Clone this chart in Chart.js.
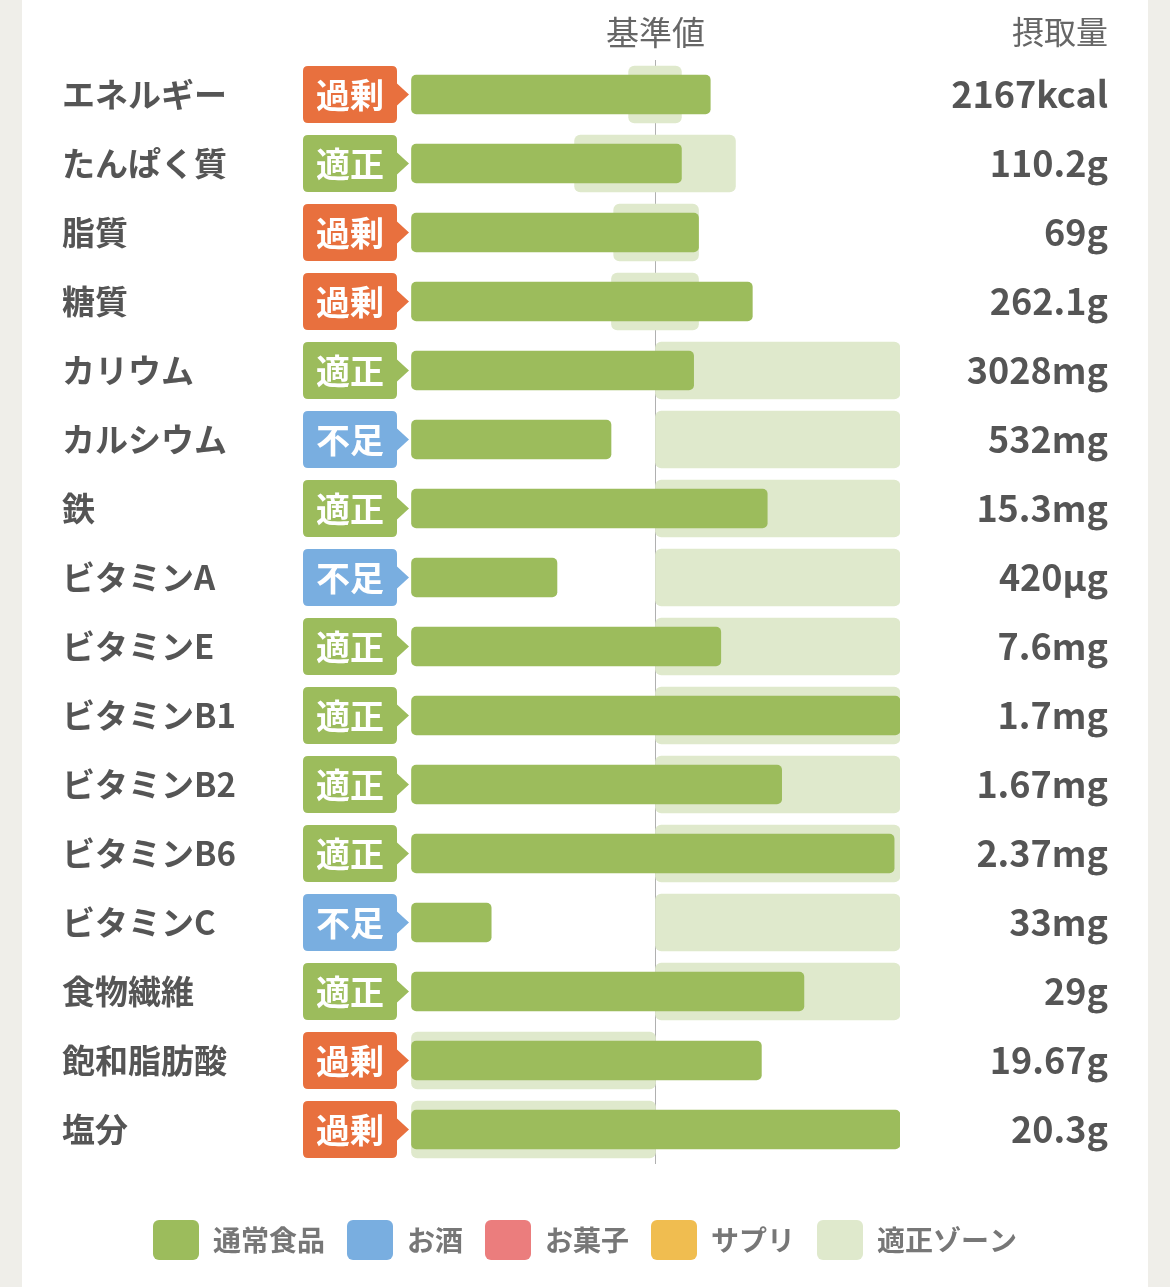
<!DOCTYPE html>
<html lang="ja">
<head>
    <meta charset="UTF-8">
    <title>栄養素の摂取量</title>
    <script src="https://cdn.jsdelivr.net/npm/chart.js"></script>
    <style>
        html, body { margin: 0; padding: 0; background: #efeee9; overflow: hidden; }
        #panel { position: absolute; left: 22px; top: 0; width: 1126px; height: 1287px; background: #fff; }
        #grafico { position: absolute; left: 0; top: 0; }
    </style>
</head>
<body>
    <div id="panel"></div>
    <canvas id="grafico" width="1170" height="1287"></canvas>

    <script>
        const categories = ['エネルギー', 'たんぱく質', '脂質', '糖質', 'カリウム', 'カルシウム', '鉄', 'ビタミンA',
            'ビタミンE', 'ビタミンB1', 'ビタミンB2', 'ビタミンB6', 'ビタミンC', '食物繊維', '飽和脂肪酸', '塩分'];
        const status = ['過剰', '適正', '過剰', '過剰', '適正', '不足', '適正', '不足',
            '適正', '適正', '適正', '適正', '不足', '適正', '過剰', '過剰'];
        const intakeLabels = ['2167kcal', '110.2g', '69g', '262.1g', '3028mg', '532mg', '15.3mg', '420µg',
            '7.6mg', '1.7mg', '1.67mg', '2.37mg', '33mg', '29g', '19.67g', '20.3g'];
        // 基準値 = 100
        const intakePct = [122.4, 110.6, 117.6, 139.6, 115.6, 81.8, 145.7, 59.7,
            126.7, 200, 151.6, 197.6, 32.8, 160.7, 143.3, 200];
        const zoneLow = [89.0, 66.9, 82.9, 82.0, 100, 100, 100, 100, 100, 100, 100, 100, 100, 100, 0, 0];
        const zoneHigh = [110.6, 132.7, 117.6, 117.6, 200, 200, 200, 200, 200, 200, 200, 200, 200, 200, 100, 100];
        const xTicks = { 100: '基準値' };
        const headerRight = '摂取量';
        const legendNames = ['通常食品', 'お酒', 'お菓子', 'サプリ', '適正ゾーン'];

        const colores = { '過剰': '#e8703e', '適正': '#9cbc5c', '不足': '#79aee0' };
        const FONT = '"Noto Sans CJK JP", "Noto Sans", sans-serif';

        const badgePlugin = {
            id: 'badges',
            afterDraw(chart) {
                const ctx = chart.ctx;
                const y = chart.scales.y;
                const left = chart.chartArea.left;
                ctx.save();
                status.forEach((s, i) => {
                    const cy = y.getPixelForValue(i);
                    const x0 = left - 108, x1 = left - 14, tip = left - 2;
                    const top = cy - 28.5, bot = cy + 28.5, r = 5;
                    ctx.beginPath();
                    ctx.moveTo(x0 + r, top);
                    ctx.lineTo(x1 - r, top);
                    ctx.quadraticCurveTo(x1, top, x1, top + r);
                    ctx.lineTo(x1, cy - 11);
                    ctx.lineTo(tip, cy);
                    ctx.lineTo(x1, cy + 11);
                    ctx.lineTo(x1, bot - r);
                    ctx.quadraticCurveTo(x1, bot, x1 - r, bot);
                    ctx.lineTo(x0 + r, bot);
                    ctx.quadraticCurveTo(x0, bot, x0, bot - r);
                    ctx.lineTo(x0, top + r);
                    ctx.quadraticCurveTo(x0, top, x0 + r, top);
                    ctx.closePath();
                    ctx.fillStyle = colores[s];
                    ctx.fill();
                    ctx.fillStyle = '#fff';
                    ctx.font = 'bold 34px ' + FONT;
                    ctx.textAlign = 'center';
                    ctx.textBaseline = 'middle';
                    ctx.fillText(s, (x0 + x1) / 2, cy + 1);
                });
                // cabecera derecha
                const x = chart.scales.x;
                const y2 = chart.scales.y2;
                ctx.fillStyle = '#666';
                ctx.font = '32px ' + FONT;
                ctx.textAlign = 'right';
                ctx.textBaseline = 'middle';
                ctx.fillText(headerRight, y2.right, x.bottom - 8 - 19.8);
                ctx.restore();
            }
        };

        const ctx = document.getElementById('grafico').getContext('2d');
        const chart = new Chart(ctx, {
            type: 'bar',
            data: {
                labels: categories,
                datasets: [
                    {
                        label: legendNames[0],
                        data: intakePct,
                        backgroundColor: '#9cbc5c',
                        barThickness: 39,
                        borderRadius: 5,
                        borderSkipped: false,
                        borderWidth: 0,
                        grouped: false,
                        order: 0
                    },
                    { label: legendNames[1], data: [], backgroundColor: '#79aee0', borderWidth: 0, grouped: false, order: 1 },
                    { label: legendNames[2], data: [], backgroundColor: '#eb7d7d', borderWidth: 0, grouped: false, order: 2 },
                    { label: legendNames[3], data: [], backgroundColor: '#f0bd50', borderWidth: 0, grouped: false, order: 3 },
                    {
                        label: legendNames[4],
                        data: zoneLow.map((lo, i) => [lo, zoneHigh[i]]),
                        backgroundColor: '#dfe9cc',
                        barThickness: 57,
                        borderRadius: 6,
                        borderSkipped: false,
                        borderWidth: 0,
                        grouped: false,
                        order: 10
                    }
                ]
            },
            options: {
                indexAxis: 'y',
                responsive: false,
                animation: false,
                layout: { padding: { left: 62, right: 62, top: 0, bottom: 17 } },
                scales: {
                    x: {
                        position: 'top',
                        min: 0,
                        max: 200,
                        z: 1,
                        border: { display: false },
                        grid: {
                            drawTicks: false,
                            lineWidth: 1,
                            color: c => c.tick && c.tick.value === 100 ? '#b0b0b0' : 'rgba(0,0,0,0)'
                        },
                        ticks: {
                            stepSize: 100,
                            padding: 8,
                            color: '#666',
                            font: { family: FONT, size: 33 },
                            callback: v => xTicks[v] || ''
                        },
                        afterFit: s => { s.height = 60; }
                    },
                    xpad: {
                        type: 'linear',
                        position: 'bottom',
                        display: true,
                        grid: { display: false },
                        border: { display: false },
                        ticks: { display: false },
                        afterFit: s => { s.height = 34; }
                    },
                    y: {
                        border: { display: false },
                        grid: { display: false },
                        ticks: {
                            crossAlign: 'far',
                            color: '#555',
                            font: { family: FONT, size: 33, weight: 'bold' }
                        },
                        afterFit: s => { s.width = 349; }
                    },
                    y2: {
                        type: 'category',
                        position: 'right',
                        labels: intakeLabels,
                        offset: true,
                        border: { display: false },
                        grid: { display: false },
                        ticks: {
                            crossAlign: 'far',
                            color: '#555',
                            font: { family: FONT, size: 36, weight: 'bold' }
                        },
                        afterFit: s => { s.width = 208; }
                    }
                },
                plugins: {
                    tooltip: { enabled: false },
                    legend: {
                        position: 'bottom',
                        labels: {
                            boxWidth: 46,
                            boxHeight: 40,
                            padding: 22,
                            useBorderRadius: true,
                            borderRadius: 6,
                            color: '#777',
                            font: { family: FONT, size: 28, weight: 'bold' }
                        }
                    }
                }
            },
            plugins: [badgePlugin]
        });
    </script>
</body>
</html>
